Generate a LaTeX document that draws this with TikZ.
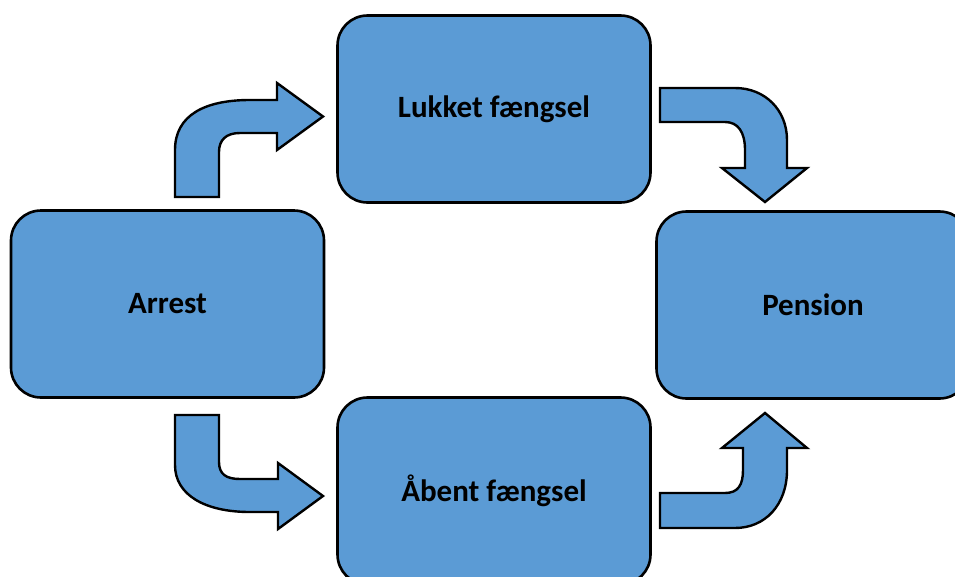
\documentclass[tikz,border=0pt]{standalone}
\usepackage{fontspec}
\setmainfont{Carlito}
\definecolor{boxblue}{HTML}{5B9BD5}
\tikzset{
  stagebox/.style={draw=black, line width=2.6pt, fill=boxblue, rounded corners=30pt,
    minimum width=313pt, minimum height=187pt, inner sep=0pt, outer sep=0pt,
    font=\fontsize{31}{37}\selectfont\bfseries, text=black},
  blockarrow/.style={draw=black, line width=2.4pt, fill=boxblue, line join=miter}
}
\begin{document}
\begin{tikzpicture}[x=1pt,y=-1pt]
\useasboundingbox (0,0) rectangle (955,576);
\clip (0,0) rectangle (955,576);
\fill[white] (0,0) rectangle (955,576);
\node[stagebox] (lukket) at (494,109) {Lukket fængsel};
\node[stagebox] (arrest) at (167.5,304) {Arrest};
\node[stagebox] (pension) at (813,305) {Pension};
\node[stagebox] (aabent) at (494,491) {Åbent fængsel};
% Arrest -> Lukket
\draw[blockarrow] (175,197) -- (175,150) .. controls (175,115) and (205,100) .. (250,100)
  -- (277,100) -- (277,83) -- (323,116.5) -- (277,150) -- (277,133) -- (240,133)
  .. controls (226,133) and (219,140) .. (219,152) -- (219,197) -- cycle;
% Lukket -> Pension
\draw[blockarrow] (660,88) -- (735,88) .. controls (765,88) and (787,110) .. (787,140)
  -- (787,168) -- (807,168) -- (765,202) -- (722,168) -- (745,168) -- (745,150)
  .. controls (745,132) and (738,122) .. (725,122) -- (660,122) -- cycle;
% Arrest -> Aabent
\draw[blockarrow] (175,415) -- (219,415) -- (219,462) .. controls (219,474) and (226,479) .. (240,479)
  -- (278,479) -- (278,463) -- (323,496) -- (278,529) -- (278,512) -- (250,512)
  .. controls (205,512) and (175,495) .. (175,465) -- cycle;
% Aabent -> Pension
\draw[blockarrow] (660,493) -- (725,493) .. controls (738,493) and (743,485) .. (743,470)
  -- (743,448) -- (722,448) -- (765,413) -- (807,448) -- (787,448) -- (787,470)
  .. controls (787,505) and (765,528) .. (735,528) -- (660,528) -- cycle;
\end{tikzpicture}
\end{document}
